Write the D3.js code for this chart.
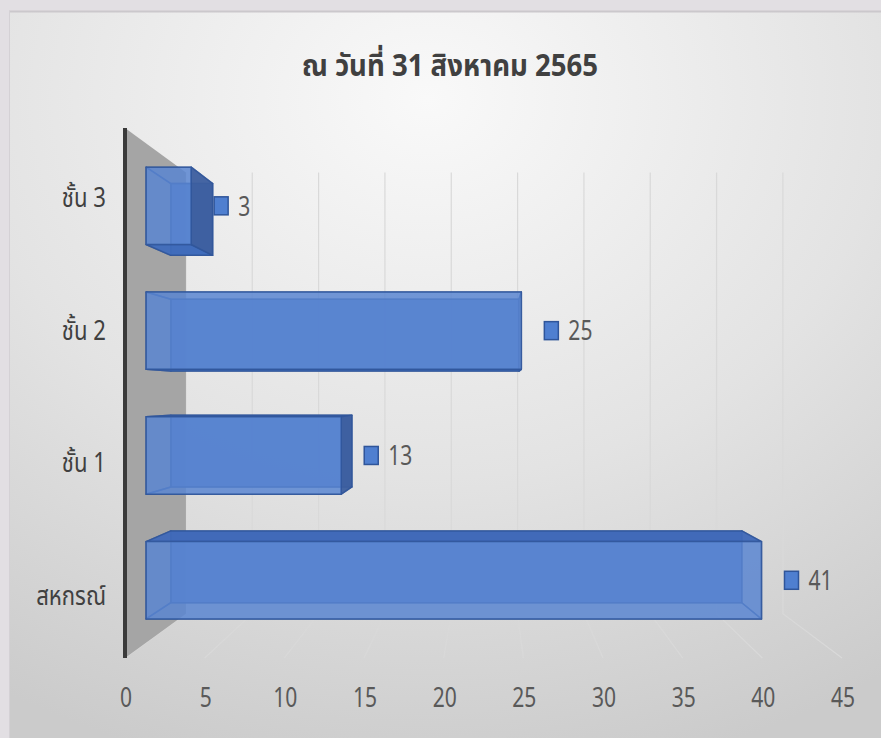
<!DOCTYPE html>
<html>
<head>
<meta charset="utf-8">
<script src="https://cdn.jsdelivr.net/npm/d3@7"></script>
<style>
  html, body { margin: 0; padding: 0; background: #e2dfe3; }
  text { font-family: "Noto Sans Thai", "Liberation Sans Narrow", "Noto Sans", sans-serif; }
</style>
</head>
<body>
<script>
// data, top to bottom as drawn
const categories = ["ชั้น 3", "ชั้น 2", "ชั้น 1", "สหกรณ์"];
const values = [3, 25, 13, 41];
const xTicks = [0, 5, 10, 15, 20, 25, 30, 35, 40, 45];
const title = "ณ วันที่ 31 สิงหาคม 2565";

const width = 881, height = 738;

// perspective setup: front plane scale 1, back wall scale kBack, all shrink toward vanishing point
const vx = 489, vy = 394;
const kBack = 0.8326;
const kBarFront = 0.942, kBarBack = 0.874;

const x = d3.scaleLinear().domain([0, 45]).range([125, 842]);
const y = d3.scaleBand().domain(categories).range([128, 658]).padding(0);

function proj(X, Y, k) {
  return [vx + (X - vx) * k, vy + (Y - vy) * k];
}

// the reference uses a narrow face, so squeeze text horizontally
function narrowText(sel, px, py, sx) {
  return sel.append("text")
      .attr("transform", `translate(${px},${py}) scale(${sx},1)`);
}

const svg = d3.select("body").append("svg")
    .attr("width", width)
    .attr("height", height);

const defs = svg.append("defs");
const bg = defs.append("radialGradient")
    .attr("id", "panelBg")
    .attr("cx", "48%").attr("cy", "12%").attr("r", "95%");
bg.append("stop").attr("offset", "0%").attr("stop-color", "#f9f9f9");
bg.append("stop").attr("offset", "55%").attr("stop-color", "#e3e3e3");
bg.append("stop").attr("offset", "100%").attr("stop-color", "#cbcbcb");

svg.append("rect")
    .attr("width", width).attr("height", height)
    .attr("fill", "#e2dfe3");
svg.append("rect")
    .attr("x", 9).attr("y", 11)
    .attr("width", width - 9).attr("height", height - 11)
    .attr("fill", "url(#panelBg)");
svg.append("line")
    .attr("x1", 9).attr("x2", width).attr("y1", 11.5).attr("y2", 11.5)
    .attr("stroke", "#cbc8cc").attr("stroke-width", 2);
svg.append("line")
    .attr("x1", 9.5).attr("x2", 9.5).attr("y1", 11).attr("y2", height)
    .attr("stroke", "#d4d1d5").attr("stroke-width", 1);

// title
narrowText(svg, 450, 76, 0.92)
    .attr("text-anchor", "middle")
    .attr("font-size", 30)
    .attr("font-weight", "bold")
    .attr("fill", "#404040")
    .text(title);

// gridlines: up the back wall, then across the floor to the front
const yTop = y.range()[0], yBottom = y.range()[1];
const grid = svg.append("g").attr("class", "grid");
xTicks.forEach(t => {
  const top = proj(x(t), yTop, kBack);
  const backFloor = proj(x(t), yBottom, kBack);
  const frontFloor = proj(x(t), yBottom, 1);
  grid.append("path")
      .attr("d", d3.line()([top, backFloor, frontFloor]))
      .attr("fill", "none")
      .attr("stroke", "#d9d9d9")
      .attr("stroke-width", 1.2);
});

// left side wall
const wall = [
  proj(x(0), yTop, 1), proj(x(0), yTop, kBack),
  proj(x(0), yBottom, kBack), proj(x(0), yBottom, 1)
];
svg.append("path")
    .attr("d", d3.line()(wall) + "Z")
    .attr("fill", "#a5a5a5");
svg.append("line")
    .attr("x1", x(0)).attr("x2", x(0))
    .attr("y1", yTop).attr("y2", yBottom)
    .attr("stroke", "#3a3a3a")
    .attr("stroke-width", 4);

// bars as perspective boxes
const barHalf = y.bandwidth() * 0.31;
const bars = svg.append("g").attr("class", "bars");

categories.forEach((c, i) => {
  const v = values[i];
  const X0 = x(0), X1 = x(v);
  const cy = y(c) + y.bandwidth() / 2;
  const Y0 = cy - barHalf, Y1 = cy + barHalf;
  const f = kBarFront, b = kBarBack;

  const faces = {
    back:   [[X0, Y0, b], [X1, Y0, b], [X1, Y1, b], [X0, Y1, b]],
    top:    [[X0, Y0, f], [X1, Y0, f], [X1, Y0, b], [X0, Y0, b]],
    bottom: [[X0, Y1, f], [X1, Y1, f], [X1, Y1, b], [X0, Y1, b]],
    left:   [[X0, Y0, f], [X0, Y1, f], [X0, Y1, b], [X0, Y0, b]],
    right:  [[X1, Y0, f], [X1, Y1, f], [X1, Y1, b], [X1, Y0, b]],
    front:  [[X0, Y0, f], [X1, Y0, f], [X1, Y1, f], [X0, Y1, f]]
  };
  const visible = {
    top: Y0 > vy,
    bottom: Y1 < vy,
    left: X0 > vx,
    right: X1 < vx
  };
  const colors = {
    back: "#4472c4", top: "#4069b8", bottom: "#3f6bbb",
    left: "#3c62a8", right: "#3d5f9f", front: "#5a86d2"
  };

  const g = bars.append("g");
  const drawFace = (name, opacity) => {
    g.append("path")
        .attr("d", d3.line()(faces[name].map(p => proj(p[0], p[1], p[2]))) + "Z")
        .attr("fill", colors[name])
        .attr("fill-opacity", opacity)
        .attr("stroke", "#2f559a")
        .attr("stroke-opacity", 0.8)
        .attr("stroke-width", 1.5)
        .attr("stroke-linejoin", "round");
  };
  drawFace("back", 0.9);
  ["top", "bottom", "left", "right"].filter(n => !visible[n]).forEach(n => drawFace(n, 0.15));
  ["top", "bottom", "left", "right"].filter(n => visible[n]).forEach(n => drawFace(n, 0.95));
  drawFace("front", 0.82);

  // data label: small key square + value
  const fr = proj(X1, cy, f);
  const sx = fr[0] + 23;
  g.append("rect")
      .attr("x", sx).attr("y", fr[1] - 9)
      .attr("width", 14).attr("height", 18)
      .attr("fill", "#4f7fd0")
      .attr("stroke", "#2f559a")
      .attr("stroke-width", 1.5);
  narrowText(g, sx + 24, fr[1], 0.78)
      .attr("dy", "0.36em")
      .attr("font-size", 27)
      .attr("fill", "#595959")
      .text(v);
});

// category labels
const catG = svg.append("g");
categories.forEach(c => {
  narrowText(catG, 106, y(c) + y.bandwidth() / 2 + 13, 0.82)
      .attr("text-anchor", "end")
      .attr("font-size", 27)
      .attr("fill", "#404040")
      .text(c);
});

// value axis labels along the front edge
const tickG = svg.append("g");
xTicks.forEach(t => {
  narrowText(tickG, x(t) + 1, 697, 0.78)
      .attr("dy", "0.36em")
      .attr("text-anchor", "middle")
      .attr("font-size", 27)
      .attr("fill", "#595959")
      .text(t);
});
</script>
</body>
</html>
